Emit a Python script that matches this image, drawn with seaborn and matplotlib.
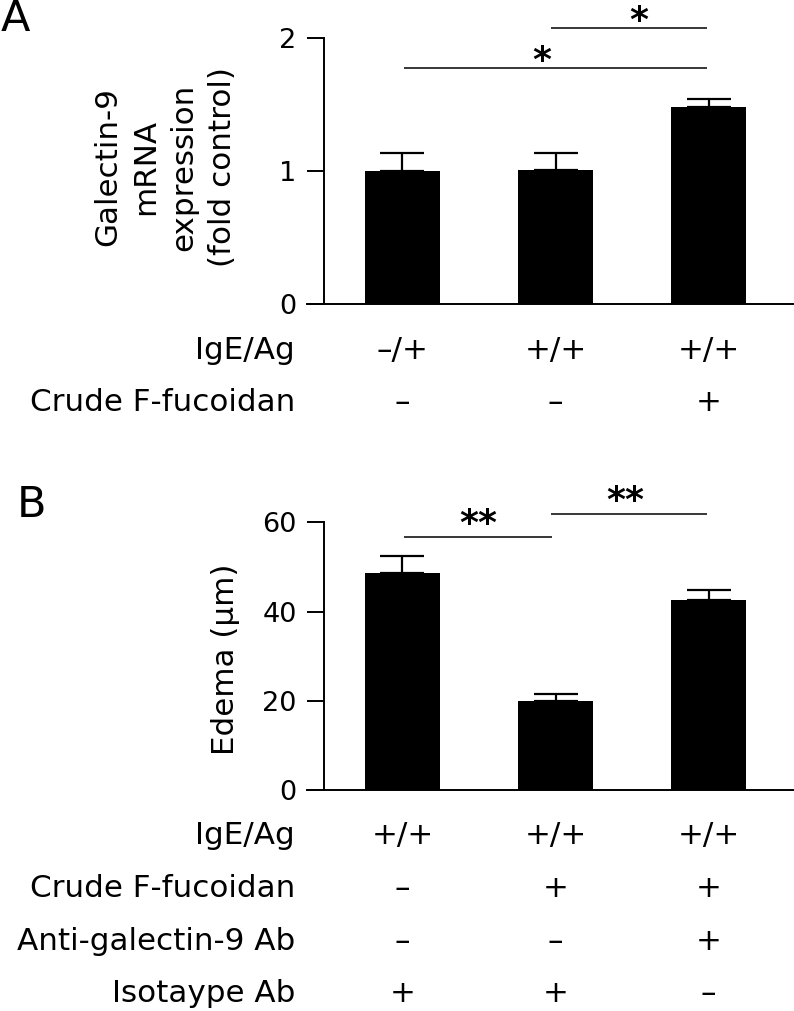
import numpy as np
import pandas as pd
import matplotlib
matplotlib.use("Agg")
import matplotlib.pyplot as plt
import matplotlib.transforms as mtransforms
import seaborn as sns

# ---------------- data ----------------
groups_a = ["G1", "G2", "G3"]
mean_a = [1.00, 1.01, 1.48]
sem_a = [0.14, 0.13, 0.06]
yticks_a = [0, 1, 2]
ylabel_a = "Galectin-9\nmRNA\nexpression\n(fold control)"
rows_a = ["IgE/Ag", "Crude F-fucoidan"]
marks_a = [["–/+", "+/+", "+/+"],
           ["–", "–", "+"]]
# significance: x_start, x_end, y, label, label_x
sig_a_x0 = [0.97, 0.01]
sig_a_x1 = [1.99, 1.99]
sig_a_y = [2.076, 1.777]
sig_a_lab = ["*", "*"]
sig_a_lx = [1.546, 0.91]

groups_b = ["G1", "G2", "G3"]
mean_b = [48.6, 20.0, 42.6]
sem_b = [3.8, 1.6, 2.2]
yticks_b = [0, 20, 40, 60]
ylabel_b = "Edema (μm)"
rows_b = ["IgE/Ag", "Crude F-fucoidan", "Anti-galectin-9 Ab", "Isotaype Ab"]
marks_b = [["+/+", "+/+", "+/+"],
           ["–", "+", "+"],
           ["–", "–", "+"],
           ["+", "+", "–"]]
sig_b_x0 = [0.007, 0.971]
sig_b_x1 = [0.977, 1.99]
sig_b_y = [56.7, 61.8]
sig_b_lab = ["**", "**"]
sig_b_lx = [0.494, 1.454]

# ---------------- style ----------------
sns.set_style("white")
plt.rcParams["font.family"] = ["DejaVu Sans"]
plt.rcParams["text.color"] = "black"
plt.rcParams["axes.labelcolor"] = "black"
plt.rcParams["xtick.color"] = "black"
plt.rcParams["ytick.color"] = "black"
W, H = 794, 1011
fig = plt.figure(figsize=(W / 100, H / 100), dpi=100)

def fx(px):
    return px / W

def fy(py):
    return 1 - py / H

XL = (-0.624, 2.552)
SPINE_X = -0.513
TICK_FS = 19.5
LAB_FS = 22.3


def panel(rect, groups, means, sems, ylim, yticks, sx0, sx1, sy, slab, slx,
          star_off):
    ax = fig.add_axes(rect)
    df = pd.DataFrame({"group": groups, "value": means})
    sns.barplot(data=df, x="group", y="value", color="black", width=0.49,
                errorbar=None, ax=ax, saturation=1, edgecolor="black",
                linewidth=0)
    xs = np.arange(len(groups))
    ax.errorbar(xs, means, yerr=[np.zeros(len(sems)), sems], fmt="none",
                ecolor="black", elinewidth=1.6, capsize=16, capthick=1.6,
                zorder=1)
    ax.set_xlim(*XL)
    ax.set_ylim(*ylim)
    ax.set_yticks(yticks)
    ax.set_yticklabels([str(t) for t in yticks])
    ax.set_xticks([])
    ax.set_xlabel("")
    ax.set_ylabel("")
    for s in ["top", "right"]:
        ax.spines[s].set_visible(False)
    ax.spines["left"].set_position(("data", SPINE_X))
    ax.spines["left"].set_bounds(ylim[0], ylim[1])
    ax.spines["left"].set_linewidth(1.4)
    ax.spines["bottom"].set_linewidth(1.4)
    ax.spines["left"].set_color("black")
    ax.spines["bottom"].set_color("black")
    ax.tick_params(axis="y", direction="out", length=12.2, width=1.4,
                   pad=7.5, colors="black", left=True, labelsize=TICK_FS,
                   labelcolor="black")
    ax.patch.set_alpha(0)
    for x0, x1, y, lab, lx in zip(sx0, sx1, sy, slab, slx):
        ax.plot([x0, x1], [y, y], color="black", lw=1.1, clip_on=False,
                solid_capstyle="butt")
        ax.annotate(lab, xy=(lx, y), xytext=(0, star_off),
                    textcoords="offset points", ha="center", va="baseline",
                    fontsize=26, fontweight="bold", annotation_clip=False,
                    color="black")
    return ax


ax_a = panel([fx(307), fy(304), fx(793) - fx(307), fy(38.3) - fy(304)],
             groups_a, mean_a, sem_a, (0, 2), yticks_a,
             sig_a_x0, sig_a_x1, sig_a_y, sig_a_lab, sig_a_lx, -2.0)
ax_b = panel([fx(307), fy(790), fx(793) - fx(307), fy(522.3) - fy(790)],
             groups_b, mean_b, sem_b, (0, 60), yticks_b,
             sig_b_x0, sig_b_x1, sig_b_y, sig_b_lab, sig_b_lx, 2.0)

# y labels
fig.text(fx(165), fy(167), ylabel_a, rotation=90, ha="center", va="center",
         fontsize=LAB_FS, multialignment="center", linespacing=1.4,
         color="black")
fig.text(fx(225), fy(659), ylabel_b, rotation=90, ha="center", va="center",
         fontsize=LAB_FS, color="black")

# condition rows
def rows(ax, labels, marks, baselines):
    tr = mtransforms.blended_transform_factory(ax.transData, fig.transFigure)
    for lab, mk, b in zip(labels, marks, baselines):
        fig.text(fx(295), fy(b), lab, ha="right", va="baseline",
                 fontsize=LAB_FS, color="black")
        for i, m in enumerate(mk):
            ax.text(i, fy(b), m, transform=tr, ha="center", va="baseline",
                    fontsize=LAB_FS, color="black")

rows(ax_a, rows_a, marks_a, [359, 411])
rows(ax_b, rows_b, marks_b, [844, 897, 950, 1002])

# panel letters
fig.text(fx(1), fy(31), "A", fontsize=31, ha="left", va="baseline",
         color="black")
fig.text(fx(17), fy(517), "B", fontsize=31, ha="left", va="baseline",
         color="black")

fig.savefig("out.png", dpi=100)
